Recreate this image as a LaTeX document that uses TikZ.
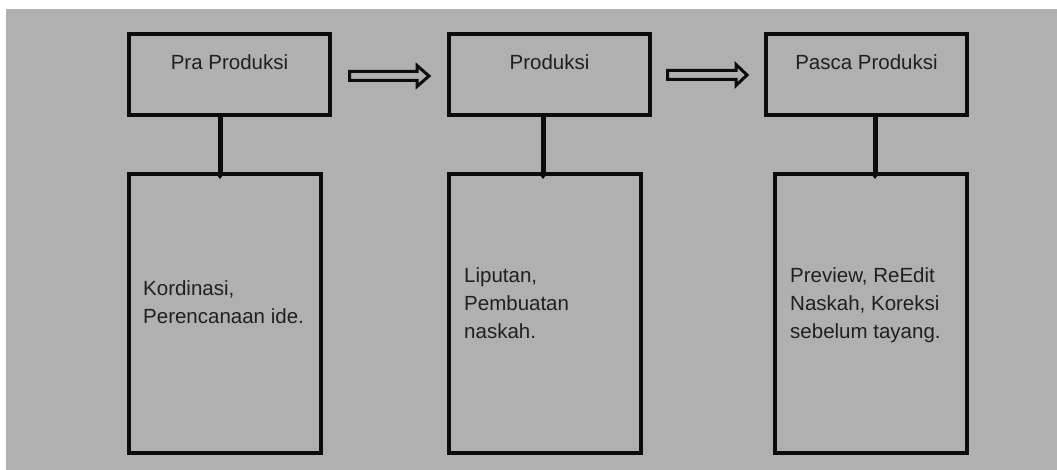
\documentclass[tikz,border=0pt]{standalone}
\usepackage{fontspec}
\setmainfont{Liberation Sans}
\usetikzlibrary{arrows.meta,calc}
\definecolor{bg}{HTML}{B0B0B0}
\definecolor{ink}{HTML}{0C0C0C}
\definecolor{txt}{HTML}{202020}
\begin{document}
\begin{tikzpicture}[x=1pt,y=-1pt,
  headbox/.style={draw=ink,line width=4pt,minimum width=201pt,minimum height=81pt,
    inner sep=0pt,outer sep=0pt,anchor=north west},
  bodybox/.style={draw=ink,line width=4pt,minimum width=192pt,minimum height=279pt,
    inner sep=0pt,outer sep=0pt,anchor=north west},
  title/.style={text=txt,font=\fontsize{20.5}{28}\selectfont,inner sep=0pt,anchor=base},
  body/.style={text=txt,font=\fontsize{20.5}{28}\selectfont,inner sep=0pt,
    anchor=base west,align=left},
  hollow/.style={draw=ink,line width=3pt,line join=miter},
  drop/.style={draw=ink,line width=5pt,
    -{Triangle[width=9pt,length=6pt]},shorten >=-5pt}]
\useasboundingbox (0,0) rectangle (1057,470);
\fill[bg] (6,9) rectangle (1057,470);

% stage headers
\node[headbox] (t1) at (129,34) {};
\node[headbox] (t2) at (449,34) {};
\node[headbox] (t3) at (766,34) {};
\node[title] (l1) at ($(t1.north)+(0,36)$) {Pra Produksi};
\node[title] (l2) at ($(t2.north)+(0,36)$) {Produksi};
\node[title] (l3) at ($(t3.north)+(0,36)$) {Pasca Produksi};

% stage details (anchored at the baseline of the last line)
\node[bodybox] (d1) at (129,174) {};
\node[bodybox] (d2) at (449,174) {};
\node[bodybox] (d3) at (775,174) {};
\node[body] (b1) at ($(d1.north west)+(14,149)$) {Kordinasi,\\Perencanaan ide.};
\node[body] (b2) at ($(d2.north west)+(15,164)$) {Liputan,\\Pembuatan\\naskah.};
\node[body] (b3) at ($(d3.north west)+(15,164)$) {Preview, ReEdit\\Naskah, Koreksi\\sebelum tayang.};

% hollow arrows between stages
\draw[hollow] ($(t1.east)+(19.5,-3)$) -- ($(t2.west)+(-32,-3)$) -- ($(t2.west)+(-32,-9)$)
  -- ($(t2.west)+(-20,1.5)$) -- ($(t2.west)+(-32,12)$) -- ($(t2.west)+(-32,6)$)
  -- ($(t1.east)+(19.5,6)$) -- cycle;
\draw[hollow] ($(t2.east)+(17.5,-4)$) -- ($(t3.west)+(-30,-4)$) -- ($(t3.west)+(-30,-10)$)
  -- ($(t3.west)+(-19,0.5)$) -- ($(t3.west)+(-30,11)$) -- ($(t3.west)+(-30,5)$)
  -- ($(t2.east)+(17.5,5)$) -- cycle;

% header to detail connectors
\draw[drop] ([xshift=-9.5pt]t1.south) -- ([xshift=-9.5pt]t1.south |- d1.north);
\draw[drop] ([xshift=-6.5pt]t2.south) -- ([xshift=-6.5pt]t2.south |- d2.north);
\draw[drop] ([xshift=8.5pt]t3.south) -- ([xshift=8.5pt]t3.south |- d3.north);
\end{tikzpicture}
\end{document}
